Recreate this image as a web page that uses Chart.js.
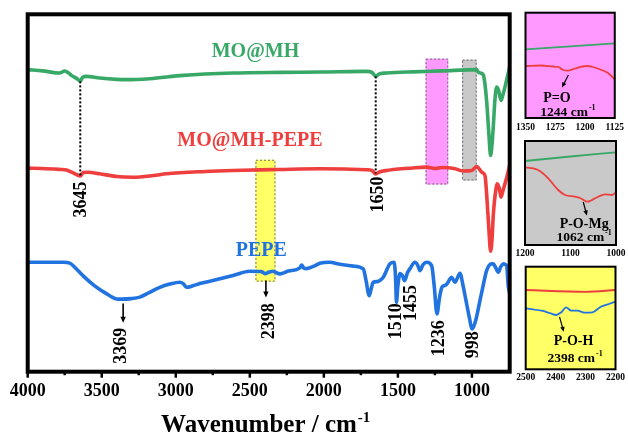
<!DOCTYPE html>
<html>
<head>
<meta charset="utf-8">
<script src="https://cdn.jsdelivr.net/npm/chart.js@4/dist/chart.umd.min.js"></script>
<style>
  html, body { margin: 0; padding: 0; background: #fff; }
  #wrap { position: relative; width: 628px; height: 436px; overflow: hidden; background: #fff; }
  #wrap canvas { position: absolute; }
</style>
</head>
<body>
<div id="wrap">
  <canvas id="main" width="628" height="436" style="left:0;top:0;width:628px;height:436px"></canvas>
  <canvas id="inPO" width="116" height="140" style="left:512px;top:0;width:116px;height:140px"></canvas>
  <canvas id="inPOMg" width="116" height="135" style="left:512px;top:130px;width:116px;height:135px"></canvas>
  <canvas id="inPOH" width="116" height="135" style="left:512px;top:255px;width:116px;height:135px"></canvas>
</div>
<script>
// ---------------- FTIR spectra (stacked, transmittance in arbitrary units) ----------------
const mhWave = [4000,3900,3784,3750,3720,3705,3670,3645,3630,3604,3514,3400,3333,3176,2950,2613,2300,2027,1712,1675,1650,1625,1577,1400,1200,968,957,935,922,901,885,874,865,856,845,833,820,804,790,777,760,748,745];
const mhT    = [301.7,300.5,298.3,300.3,298,296,293,290.3,294,295,293.3,292,291.7,292.7,296,298.3,299,299.3,300,299,295,297.5,298.3,299.5,300.5,301.7,299.3,298,296,271,236,216,226,244.3,271,284.3,281,271,277,284.3,295,302.7,305];

const mhpWave = [4000,3900,3780,3739,3700,3670,3645,3625,3592,3514,3400,3288,3150,3063,2800,2613,2300,2027,1712,1675,1650,1625,1577,1400,1306,1250,1200,1120,1062,1000,968,950,935,912,900,885,874,865,856,845,829,815,804,790,777,760,748,745];
const mhpT    = [203.3,203,202,201.5,199,197,195.5,199,199.3,197.7,195,194.3,196,197.7,200,201,202,202.7,201.7,201,197.5,199.5,201,203.5,204.3,203,204,203,200.5,201,205,202.5,199.3,196,176,141,120.3,131,156,174.3,187.7,183,174.3,181,187.7,197,204.3,207];

const pepeWave = [4000,3900,3760,3716,3680,3620,3550,3480,3400,3369,3300,3243,3180,3108,3040,2973,2950,2928,2880,2838,2750,2613,2500,2420,2398,2370,2345,2297,2240,2162,2150,2135,2117,2060,2027,1960,1900,1800,1734,1715,1694,1680,1667,1640,1622,1599,1554,1525,1515,1510,1500,1486,1470,1455,1435,1419,1385,1365,1351,1330,1306,1272,1255,1236,1220,1203,1185,1169,1137,1115,1081,1060,1040,1020,998,975,946,920,901,867,856,840,822,805,788,766,755,748,745];
const pepeT    = [109.3,109.3,109.3,108.5,104,95,86,79,72.7,72.5,73,74.5,79,84.3,87.5,89.3,88,84.3,86,88,91,96,100.3,100,98,99.5,100.3,97.7,100.5,103.7,106.5,103.5,103,106,108.3,109.3,107.5,105.5,102.7,91,76,83,89.3,90,91,94.3,107.7,109.3,91,69.3,86,98,96,91,99,102.7,109.3,106,101,107,109.3,106,86,57.7,73,84.3,86,87.7,94.3,89.3,98.3,86,71,56,42.7,51,71,89,101,107.7,107.7,104,99.3,105,107.7,106,86,80,78];

const seriesNames = ['MO@MH', 'MO@MH-PEPE', 'PEPE'];
const xTickLabels = [4000, 3500, 3000, 2500, 2000, 1500, 1000];
const peakLabels = [3645, 1650, 3369, 2398, 1510, 1455, 1236, 998];

// ---------------- zoomed windows ----------------
const poMhWave = [1350, 1237, 1125];
const poMhT = [68.7, 71.7, 74.7];
const poMhpWave = [1350,1312,1280,1267,1255,1244,1225,1207,1195,1180,1158,1142,1125];
const poMhpT = [52,52.5,51.5,51,48,47.3,49.5,51.5,52,51,48,45,38.7];

const mgMhWave = [1200, 1100, 1000];
const mgMhT = [84, 88.5, 92.7];
const mgMhpWave = [1200,1171,1149,1127,1112,1090,1077,1062,1055,1046,1024,1009,1000];
const mgMhpT = [77.7,75,66.7,55,50,48.3,46.5,43.3,44.5,46.7,50.7,50,52.7];

const ohMhpWave = [2500, 2300, 2200];
const ohMhpT = [79.3, 77.5, 79.3];
const ohPepeWave = [2500,2447,2420,2398,2380,2365,2348,2327,2304,2277,2249,2222,2200];
const ohPepeT = [61,58.6,56.3,54.3,57.3,62,58.6,58.6,56.6,57,62.6,65.3,67.6];

// ---------------- styling ----------------
const SERIF = '"Liberation Serif", "Times New Roman", serif';
const GREEN = '#38a867';
const RED = '#ee3e3e';
const BLUE = '#2173e0';

const pts = (xs, ys) => xs.map((x, i) => ({ x, y: ys[i] }));
const lineSet = (label, xs, ys, color, width) => ({
  label, data: pts(xs, ys), borderColor: color, borderWidth: width,
  pointRadius: 0, fill: false, cubicInterpolationMode: 'monotone'
});

function textSup(ctx, base, sup, cx, cy, size) {
  ctx.save();
  ctx.font = `bold ${size}px ${SERIF}`;
  const wb = ctx.measureText(base).width;
  const supSize = Math.round(size * 0.6);
  ctx.font = `bold ${supSize}px ${SERIF}`;
  const ws = ctx.measureText(sup).width;
  const x0 = cx - (wb + ws + 1) / 2;
  const baseY = cy + size * 0.33;
  ctx.textAlign = 'left';
  ctx.textBaseline = 'alphabetic';
  ctx.font = `bold ${size}px ${SERIF}`;
  ctx.fillText(base, x0, baseY);
  ctx.font = `bold ${supSize}px ${SERIF}`;
  ctx.fillText(sup, x0 + wb + 1, baseY - size * 0.42);
  ctx.restore();
}

function arrow(ctx, x1, y1, x2, y2, head, width) {
  const a = Math.atan2(y2 - y1, x2 - x1);
  ctx.save();
  ctx.strokeStyle = '#000';
  ctx.fillStyle = '#000';
  ctx.lineWidth = width;
  ctx.beginPath();
  ctx.moveTo(x1, y1);
  ctx.lineTo(x2 - Math.cos(a) * head * 0.8, y2 - Math.sin(a) * head * 0.8);
  ctx.stroke();
  ctx.beginPath();
  ctx.moveTo(x2, y2);
  ctx.lineTo(x2 - head * Math.cos(a) + head * 0.45 * Math.sin(a), y2 - head * Math.sin(a) - head * 0.45 * Math.cos(a));
  ctx.lineTo(x2 - head * Math.cos(a) - head * 0.45 * Math.sin(a), y2 - head * Math.sin(a) + head * 0.45 * Math.cos(a));
  ctx.closePath();
  ctx.fill();
  ctx.restore();
}

// highlighted bands on the main spectrum: [from, to] wavenumber, [low, high] level, fill
const bands = [
  { x: [1313, 1160], y: [187, 312.7], fill: '#ff99ff' },
  { x: [1066, 968], y: [191, 311.7], fill: '#c9c9c9' },
  { x: [2462, 2327], y: [90, 211.7], fill: '#ffff66' }
];

const mainDecor = {
  id: 'mainDecor',
  beforeDatasetsDraw(chart) {
    const { ctx, scales: { x, y } } = chart;
    ctx.save();
    bands.forEach(b => {
      const l = x.getPixelForValue(b.x[0]), r = x.getPixelForValue(b.x[1]);
      const t = y.getPixelForValue(b.y[1]), btm = y.getPixelForValue(b.y[0]);
      ctx.fillStyle = b.fill;
      ctx.fillRect(l, t, r - l, btm - t);
      ctx.strokeStyle = '#6b6b6b';
      ctx.lineWidth = 1;
      ctx.setLineDash([2, 2]);
      ctx.strokeRect(l + 0.5, t + 0.5, r - l - 1, btm - t - 1);
    });
    ctx.restore();
  },
  afterDatasetsDraw(chart) {
    const { ctx, chartArea: ca, scales: { x, y } } = chart;
    ctx.save();

    // dotted guides linking the shared bands of the two MO@MH spectra
    ctx.strokeStyle = '#000';
    ctx.lineWidth = 2;
    ctx.setLineDash([2, 2]);
    [[peakLabels[0], 290, 196], [peakLabels[1], 295, 198]].forEach(([w, top, bot]) => {
      const px = x.getPixelForValue(w);
      ctx.beginPath();
      ctx.moveTo(px, y.getPixelForValue(top));
      ctx.lineTo(px, y.getPixelForValue(bot));
      ctx.stroke();
    });
    ctx.setLineDash([]);

    // series names
    ctx.font = `bold 20px ${SERIF}`;
    ctx.textAlign = 'center';
    ctx.textBaseline = 'middle';
    [[seriesNames[0], 2462, 319.5, GREEN], [seriesNames[1], 2499, 231, RED], [seriesNames[2], 2423, 121, BLUE]]
      .forEach(([t, w, v, c]) => {
        ctx.fillStyle = c;
        ctx.fillText(t, x.getPixelForValue(w), y.getPixelForValue(v));
      });

    // arrows to the PEPE bands
    arrow(ctx, x.getPixelForValue(3369) + 2, y.getPixelForValue(68), x.getPixelForValue(3369) + 2, y.getPixelForValue(49), 6, 1.6);
    arrow(ctx, x.getPixelForValue(2398) + 1, y.getPixelForValue(91), x.getPixelForValue(2398) + 1, y.getPixelForValue(74), 6, 1.6);

    // peak positions, rotated
    const spots = [[0, 1.5, 172], [1, 3, 177], [2, 0.5, 26], [3, 4, 50.5], [4, 0, 50.5], [5, 7, 68.5], [6, 2.5, 33.5], [7, 1.5, 27]];
    ctx.fillStyle = '#000';
    ctx.font = `bold 18px ${SERIF}`;
    spots.forEach(([i, dx, v]) => {
      ctx.save();
      ctx.translate(x.getPixelForValue(peakLabels[i]) + dx, y.getPixelForValue(v));
      ctx.rotate(-Math.PI / 2);
      ctx.textAlign = 'center';
      ctx.textBaseline = 'middle';
      ctx.fillText(String(peakLabels[i]), 0, 0);
      ctx.restore();
    });

    // frame
    ctx.strokeStyle = '#000';
    ctx.lineWidth = 4;
    ctx.strokeRect(ca.left, ca.top, ca.right - ca.left, ca.bottom - ca.top);

    // major / minor ticks on the wavenumber axis
    ctx.lineWidth = 2.5;
    for (let w = 1000; w <= 4000; w += 250) {
      const px = x.getPixelForValue(w);
      ctx.beginPath();
      ctx.moveTo(px, ca.bottom);
      ctx.lineTo(px, ca.bottom + (w % 500 === 0 ? 6 : 3.5));
      ctx.stroke();
    }

    // axis title
    textSup(ctx, 'Wavenumber / cm', '-1', (ca.left + ca.right) / 2 - 3, 424, 25);
    ctx.restore();
  }
};

new Chart(document.getElementById('main'), {
  type: 'line',
  data: {
    datasets: [
      lineSet(seriesNames[2], pepeWave, pepeT, BLUE, 3.6),
      lineSet(seriesNames[1], mhpWave, mhpT, RED, 3.6),
      lineSet(seriesNames[0], mhWave, mhT, GREEN, 3.6)
    ]
  },
  options: {
    responsive: false,
    animation: false,
    devicePixelRatio: 1,
    layout: { padding: { left: 27.7, right: 118.3, top: 14.3, bottom: 0 } },
    plugins: { legend: { display: false }, tooltip: { enabled: false } },
    scales: {
      x: {
        type: 'linear', reverse: true, min: 745, max: 4000,
        afterFit(s) { s.height = 64.3; },
        grid: { display: false, drawTicks: false },
        border: { display: false },
        afterBuildTicks(s) { s.ticks = xTickLabels.map(v => ({ value: v })); },
        ticks: {
          autoSkip: false, maxRotation: 0, padding: 8.5, color: '#000',
          callback: v => String(v),
          font: { family: SERIF, size: 18, weight: 'bold' }
        }
      },
      y: { display: false, min: 0, max: 357 }
    }
  },
  plugins: [mainDecor]
});

// ---------------- zoomed windows ----------------
function inset(id, o) {
  const decor = {
    id: 'insetDecor',
    beforeDatasetsDraw(chart) {
      const { ctx, chartArea: ca } = chart;
      ctx.save();
      ctx.fillStyle = o.fill;
      ctx.fillRect(ca.left, ca.top, ca.right - ca.left, ca.bottom - ca.top);
      ctx.restore();
    },
    afterDatasetsDraw(chart) {
      const { ctx, chartArea: ca, scales: { x, y } } = chart;
      ctx.save();
      const a = o.arrow;
      arrow(ctx, x.getPixelForValue(a[0]), y.getPixelForValue(a[1]), x.getPixelForValue(a[2]), y.getPixelForValue(a[3]), 5, 1.2);
      ctx.fillStyle = '#000';
      ctx.font = `bold 14px ${SERIF}`;
      ctx.textAlign = 'center';
      ctx.textBaseline = 'middle';
      ctx.fillText(o.name[0], x.getPixelForValue(o.name[1]), y.getPixelForValue(o.name[2]));
      textSup(ctx, o.pos[0] + ' cm', '-1', x.getPixelForValue(o.pos[1]), y.getPixelForValue(o.pos[2]), 13.5);
      ctx.strokeStyle = '#000';
      ctx.lineWidth = 2;
      ctx.strokeRect(ca.left, ca.top, ca.right - ca.left, ca.bottom - ca.top);
      ctx.restore();
    }
  };
  new Chart(document.getElementById(id), {
    type: 'line',
    data: { datasets: o.sets },
    options: {
      responsive: false,
      animation: false,
      devicePixelRatio: 1,
      layout: { padding: o.pad },
      plugins: { legend: { display: false }, tooltip: { enabled: false } },
      scales: {
        x: {
          type: 'linear', reverse: true, min: o.range[0], max: o.range[1],
          afterFit(s) { s.height = o.axisH; },
          grid: { display: false, drawTicks: false },
          border: { display: false },
          afterBuildTicks(s) { s.ticks = o.ticks.map(v => ({ value: v })); },
          ticks: {
            autoSkip: false, maxRotation: 0, padding: o.tickPad, color: '#000',
            callback: v => String(v),
            font: { family: SERIF, size: 9.5, weight: 'bold' }
          }
        },
        y: { display: false, min: 0, max: o.h }
      }
    },
    plugins: [decor]
  });
}

inset('inPO', {
  range: [1125, 1350], ticks: [1350, 1275, 1200, 1125], h: 105.3,
  pad: { left: 13, right: 13, top: 12.7, bottom: 0 }, axisH: 22, tickPad: 4,
  fill: '#ff99ff',
  sets: [lineSet(seriesNames[1], poMhpWave, poMhpT, RED, 1.8), lineSet(seriesNames[0], poMhWave, poMhT, GREEN, 1.8)],
  arrow: [1242, 43, 1258, 30.5],
  name: ['P=O', 1271, 19.7],
  pos: ['1244', 1243, 6.3]
});

inset('inPOMg', {
  range: [1000, 1200], ticks: [1200, 1100, 1000], h: 104,
  pad: { left: 13, right: 12, top: 11, bottom: 0 }, axisH: 20, tickPad: 2.5,
  fill: '#c9c9c9',
  sets: [lineSet(seriesNames[1], mgMhpWave, mgMhpT, RED, 1.8), lineSet(seriesNames[0], mgMhWave, mgMhT, GREEN, 1.8)],
  arrow: [1072, 43, 1064, 29.5],
  name: ['P-O-Mg', 1070, 20.7],
  pos: ['1062', 1070, 8.3]
});

inset('inPOH', {
  range: [2200, 2500], ticks: [2500, 2400, 2300, 2200], h: 102.6,
  pad: { left: 13.7, right: 11.3, top: 11.7, bottom: 0 }, axisH: 20.7, tickPad: 3,
  fill: '#ffff66',
  sets: [lineSet(seriesNames[1], ohMhpWave, ohMhpT, RED, 1.8), lineSet(seriesNames[2], ohPepeWave, ohPepeT, BLUE, 1.8)],
  arrow: [2387, 52.5, 2373, 37.5],
  name: ['P-O-H', 2340, 27.6],
  pos: ['2398', 2335, 12]
});
</script>
</body>
</html>
